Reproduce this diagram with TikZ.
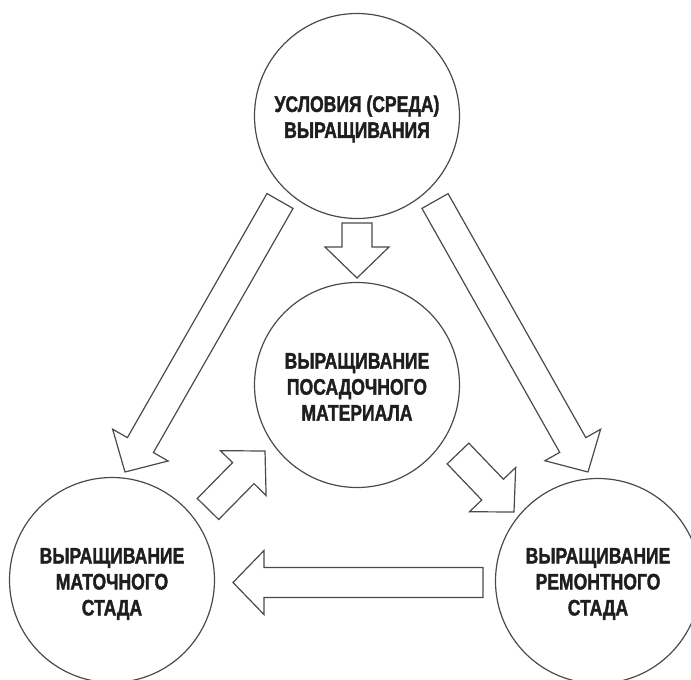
\documentclass[tikz,border=0pt]{standalone}
\usepackage{fontspec}
\newfontfamily\cond[FakeStretch=0.78,FakeBold=1.6]{Liberation Sans}
\usetikzlibrary{calc}
\definecolor{linec}{HTML}{4A4A4A}
\definecolor{txtc}{HTML}{1E1E1E}
\tikzset{
  circ/.style={circle, draw=linec, line width=1.2pt, minimum size=205pt, inner sep=0pt},
  lbl/.style={align=center, text=txtc, font=\cond\bfseries\fontsize{22.5}{26}\selectfont},
  barrow/.style={draw=linec, line width=1.2pt, line join=miter, fill=white},
}
\newcommand\blockarrow[2]{%
  \coordinate (ba-c) at ($(#2)!31pt!(#1)$);
  \draw[barrow] ($(#1)!15pt!90:(#2)$) -- ($(ba-c)!15pt!-90:(#1)$) -- ($(ba-c)!32pt!-90:(#1)$) -- (#2)
    -- ($(ba-c)!32pt!90:(#1)$) -- ($(ba-c)!15pt!90:(#1)$) -- ($(#1)!15pt!-90:(#2)$) -- cycle;
}
\begin{document}
\begin{tikzpicture}[x=1pt,y=-1pt]
\useasboundingbox (0,0) rectangle (691,680);
\fill[white] (0,0) rectangle (691,680);
\clip (0,0) rectangle (691,680);
% circles
\node[circ] (top) at (357,116) {};
\node[circ] (mid) at (357,385) {};
\node[circ] (bl) at (112,580) {};
\node[circ] (br) at (598,581) {};
% labels
\node[lbl] at ([yshift=-3pt]top.center) {УСЛОВИЯ (СРЕДА)\\ВЫРАЩИВАНИЯ};
\node[lbl] at ([yshift=-2pt]mid.center) {ВЫРАЩИВАНИЕ\\ПОСАДОЧНОГО\\МАТЕРИАЛА};
\node[lbl] at ([yshift=-4pt]bl.center) {ВЫРАЩИВАНИЕ\\МАТОЧНОГО\\СТАДА};
\node[lbl] at ([yshift=-3pt]br.center) {ВЫРАЩИВАНИЕ\\РЕМОНТНОГО\\СТАДА};
% arrow end points
\coordinate (a1s) at (357,223);   \coordinate (a1e) at (357,278);
\coordinate (a2s) at (280,201);   \coordinate (a2e) at (125,472);
\coordinate (a3s) at (435,201);   \coordinate (a3e) at (588,472);
\coordinate (a4s) at (208,509);   \coordinate (a4e) at (265,451);
\coordinate (a5s) at (458,453.5); \coordinate (a5e) at (514,512);
\coordinate (a6s) at (483,582.5); \coordinate (a6e) at (233,582.5);
% block arrows
\blockarrow{a1s}{a1e}
\blockarrow{a2s}{a2e}
\blockarrow{a3s}{a3e}
\blockarrow{a4s}{a4e}
\blockarrow{a5s}{a5e}
\blockarrow{a6s}{a6e}
\end{tikzpicture}
\end{document}
